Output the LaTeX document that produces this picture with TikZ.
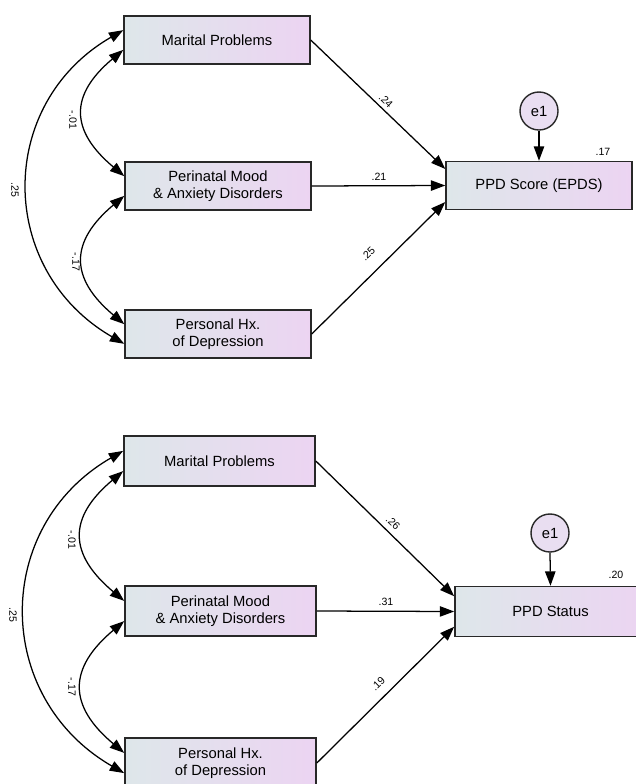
\documentclass[tikz,border=0pt]{standalone}
\usepackage{fontspec}
\setmainfont{Liberation Sans}
\usetikzlibrary{arrows.meta,positioning}
\definecolor{boxL}{RGB}{222,231,234}
\definecolor{boxR}{RGB}{236,212,242}
\definecolor{errfill}{RGB}{233,222,241}
\definecolor{edge}{RGB}{40,40,40}

\begin{document}
\begin{tikzpicture}[
  x=0.025cm, y=-0.025cm,
  var/.style={draw=edge, line width=1pt, left color=boxL, right color=boxR,
              minimum width=4.65cm, minimum height=1.2cm, align=center,
              inner sep=0pt, font=\fontsize{10.5}{12}\selectfont},
  varb/.style={var, minimum width=4.78cm, minimum height=1.25cm},
  err/.style={circle, draw=edge, line width=1pt, fill=errfill,
              minimum size=0.95cm, inner sep=0pt, font=\fontsize{10.5}{12}\selectfont},
  arr/.style={-{Triangle[length=3.6mm, width=2.6mm]}, line width=0.9pt},
  cov/.style={{Triangle[length=3.6mm, width=2.6mm]}-{Triangle[length=3.6mm, width=2.6mm]},
              line width=0.9pt},
  coef/.style={inner sep=1pt, font=\fontsize{7.5}{9}\selectfont},
]
\useasboundingbox (0,0) rectangle (636,784);

% Top model — PPD score
\node[var] (mar1)  at (217,40)    {Marital Problems};
\node[var] (peri1) at (218,186)   {Perinatal Mood\\\& Anxiety Disorders};
\node[var] (hx1)   at (218,334)   {Personal Hx.\\of Depression};
\node[var] (epds)  at (539,185.5) {PPD Score (EPDS)};
\node[err] (err1)  at (539,111)   {e1};

\draw[arr] (mar1.east) -- (epds.170);
\draw[arr] (peri1.east) -- (epds.west);
\draw[arr] (hx1.east) -- (epds.190);
\draw[arr] (err1.south) -- (epds.north);

\draw[cov] (mar1.174) to[out=210, in=150, looseness=1.2] (hx1.186);
\draw[cov] (mar1.186) to[out=220, in=140, looseness=1.43] (peri1.174);
\draw[cov] (peri1.186) to[out=220, in=140, looseness=1.43] (hx1.174);

\node[coef, rotate=-90] (c13a) at (15,190)  {.25};
\node[coef, rotate=-90] (c12a) at (73,120)  {-.01};
\node[coef, rotate=-90] (c23a) at (76,262)  {-.17};
\node[coef, rotate=-44] (b1a)  at (386,101) {.24};
\node[coef]             (b2a)  at (379,177) {.21};
\node[coef, rotate=44]  (b3a)  at (368,254) {.25};
\node[coef]             (r2a)  at (603,152) {.17};

% Bottom model — PPD status
\node[varb] (mar2)   at (219.5,461) {Marital Problems};
\node[varb] (peri2)  at (220.5,611) {Perinatal Mood\\\& Anxiety Disorders};
\node[varb] (hx2)    at (220.5,763) {Personal Hx.\\of Depression};
\node[varb] (status) at (550.5,611.5) {PPD Status};
\node[err]  (err2)   at (550,533)   {e1};

\draw[arr] (mar2.east) -- (status.171);
\draw[arr] (peri2.east) -- (status.west);
\draw[arr] (hx2.east) -- (status.189);
\draw[arr] (err2.south) -- (status.north);

\draw[cov] (mar2.174) to[out=210, in=150, looseness=1.2] (hx2.186);
\draw[cov] (mar2.186) to[out=220, in=140, looseness=1.43] (peri2.174);
\draw[cov] (peri2.186) to[out=220, in=140, looseness=1.43] (hx2.174);

\node[coef, rotate=-90] (c13b) at (13,615)  {.25};
\node[coef, rotate=-90] (c12b) at (72,540)  {-.01};
\node[coef, rotate=-90] (c23b) at (72,687)  {-.17};
\node[coef, rotate=-44] (b1b)  at (393,523) {.26};
\node[coef]             (b2b)  at (386,602) {.31};
\node[coef, rotate=44]  (b3b)  at (378,684) {.19};
\node[coef]             (r2b)  at (616,575) {.20};
\end{tikzpicture}
\end{document}
